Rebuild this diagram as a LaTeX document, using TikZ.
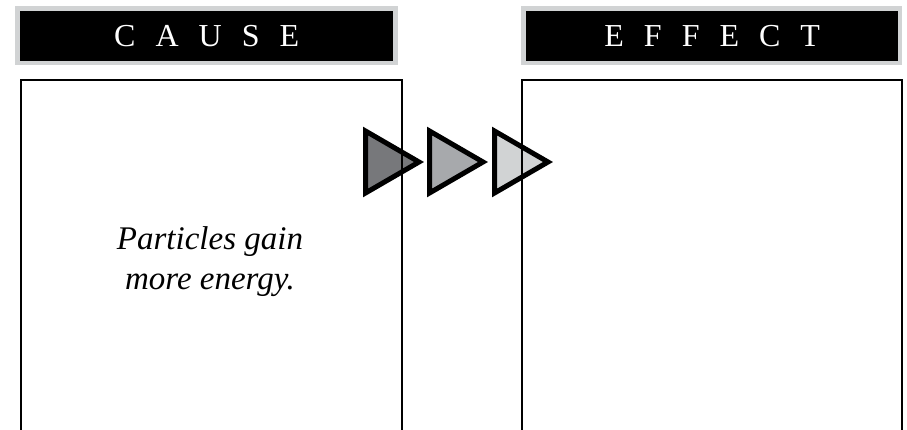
\documentclass[tikz,border=0pt]{standalone}
\usepackage{fontspec}
\setmainfont{Liberation Serif}
\definecolor{bandgray}{HTML}{D1D3D4}
\definecolor{arrowdark}{HTML}{77787B}
\definecolor{arrowmid}{HTML}{A7A9AC}
\definecolor{arrowlight}{HTML}{D1D3D4}
\begin{document}
\begin{tikzpicture}[x=1pt,y=-1pt,
  band/.style={fill=bandgray,draw=none,inner sep=0pt,anchor=north west},
  title/.style={fill=black,text=white,inner sep=0pt,anchor=north west,
    font=\fontsize{32}{32}\selectfont},
  panel/.style={draw=black,line width=2pt,inner sep=0pt,anchor=north west},
  chevron/.style={draw=black,line width=5pt,miter limit=10,line join=miter},
  body/.style={align=center,font=\fontsize{33}{40}\selectfont\itshape}]
\useasboundingbox (0,0) rectangle (907,430);
\clip (0,0) rectangle (907,430);

% grey bands behind the black title bars
\node[band,minimum width=383pt,minimum height=59pt] (causeband) at (15,6) {};
\node[band,minimum width=381pt,minimum height=59pt] (effectband) at (521,6) {};

% black title bars
\node[title,minimum width=373pt,minimum height=50pt] (causetitle) at (20,11)
  {C\hspace{20pt}A\hspace{20pt}U\hspace{20pt}S\hspace{20pt}E};
\node[title,minimum width=372pt,minimum height=50pt] (effecttitle) at (526,11)
  {E\hspace{20pt}F\hspace{20pt}F\hspace{20pt}E\hspace{20pt}C\hspace{20pt}T};

% three chevrons pointing from cause to effect
\draw[chevron,fill=arrowdark]  (365.5,131) -- (419,162) -- (365.5,193) -- cycle;
\draw[chevron,fill=arrowmid]   (429.5,131) -- (483,162) -- (429.5,193) -- cycle;
\draw[chevron,fill=arrowlight] (494.5,131) -- (548,162) -- (494.5,193) -- cycle;

% open panels running off the bottom edge
\node[panel,minimum width=381pt,minimum height=380pt] (causebox) at (20,79) {};
\node[panel,minimum width=380pt,minimum height=380pt] (effectbox) at (521,79) {};

\node[body,anchor=base] (causetext) at (210,290) {Particles gain\\more energy.};
\end{tikzpicture}
\end{document}
